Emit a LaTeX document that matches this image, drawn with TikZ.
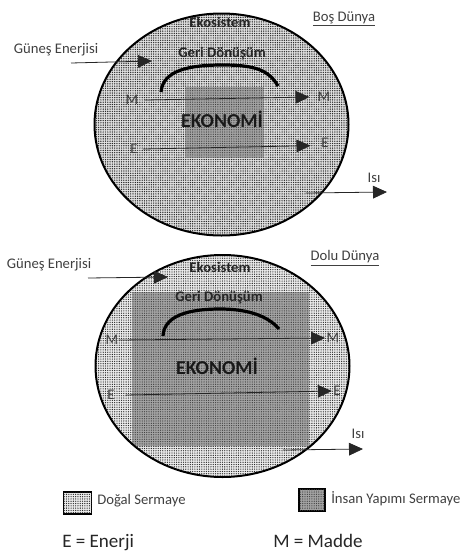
\documentclass[tikz,border=0pt]{standalone}
\usepackage{fontspec}
\setmainfont{Carlito}
\usetikzlibrary{arrows.meta,patterns.meta}
\tikzset{
  x=0.75pt,y=-0.75pt,
  natural/.style={fill=black!12,postaction={pattern={Dots[radius=0.54pt,distance=1.72pt,angle=0]},pattern color=black!85}},
  naturallight/.style={fill=black!8,postaction={pattern={Dots[radius=0.49pt,distance=1.72pt,angle=0]},pattern color=black!85}},
  built/.style={fill=black!36,postaction={pattern={Dots[radius=0.48pt,distance=1.72pt,angle=0]},pattern color=black!75}},
  flow/.style={draw=black!85,line width=0.6pt,-{Triangle[length=10.5pt,width=9.5pt]}},
  loopline/.style={draw=black,line width=2.4pt,line cap=butt},
  lbl/.style={inner sep=0pt,font=\fontsize{11pt}{13pt}\selectfont,text=black!75},
  lblsmall/.style={inner sep=0pt,font=\fontsize{11pt}{13pt}\selectfont,text=black!75},
  strong/.style={inner sep=0pt,font=\fontsize{11pt}{13pt}\selectfont\bfseries,text=black!85},
  eco/.style={inner sep=0pt,font=\fontsize{14.8pt}{17pt}\selectfont\bfseries,text=black!90},
  big/.style={inner sep=0pt,font=\fontsize{14.3pt}{16pt}\selectfont,text=black!85},
  keybox/.style={draw=black,line width=1.3pt},
}
\begin{document}
\begin{tikzpicture}
\useasboundingbox (0,0) rectangle (462,554);
% upper world
\path[natural] (221.5,124.5) ellipse [x radius=127,y radius=111];
\path[built] (185,87) rectangle (264,158);
\draw[line width=1.5pt] (221.5,124.5) ellipse [x radius=127,y radius=111];
\node[strong] (eco1) at (220,22) {Ekosistem};
\node[lbl] (bos) at (344,19) {\underline{Boş Dünya}};
\node[lbl] (sun1) at (56,50) {Güneş Enerjisi};
\node[strong] (geri1) at (222,54) {Geri Dönüşüm};
\node[lblsmall] (m1a) at (132,100) {M};
\node[lblsmall] (m1b) at (324,97) {M};
\node[eco] (eko1) at (222,119) {EKONOMİ};
\node[lblsmall] (e1a) at (134,149) {E};
\node[lblsmall] (e1b) at (325,143) {E};
\node[lblsmall] (isi1) at (374,178) {Isı};
\coordinate (s1a) at (71,63);
\coordinate (s1b) at (152,61);
\coordinate (h1a) at (306,193);
\coordinate (h1b) at (387,192);
\draw[flow] (s1a) -- (s1b);
\draw[flow] ([xshift=5pt]m1a.east) -- ([xshift=-6pt]m1b.west);
\draw[flow] ([xshift=4pt]e1a.east) -- ([xshift=-8pt,yshift=-2pt]e1b.west);
\draw[flow] (h1a) -- (h1b);
\coordinate (l1a) at (161,92);
\coordinate (l1b) at (278,86);
\draw[loopline] (l1a) .. controls (163,70) and (190,65) .. (222,65) .. controls (250,65) and (268,68) .. (l1b);
% lower world
\path[naturallight] (222.5,366) ellipse [x radius=127,y radius=111];
\begin{scope}
\clip (222.5,366) ellipse [x radius=127,y radius=111];
\path[built] (132,292) rectangle (309,446);
\end{scope}
\draw[line width=1.5pt] (222.5,366) ellipse [x radius=127,y radius=111];
\node[strong] (eco2) at (220,267) {Ekosistem};
\node[lbl] (dolu) at (345,258) {\underline{Dolu Dünya}};
\node[lbl] (sun2) at (49,265) {Güneş Enerjisi};
\node[strong] (geri2) at (219,298) {Geri Dönüşüm};
\node[lblsmall] (m2a) at (112,340) {M};
\node[lblsmall] (m2b) at (333,338) {M};
\node[eco] (eko2) at (217,366) {EKONOMİ};
\node[lblsmall] (e2a) at (111,395) {E};
\node[lblsmall] (e2b) at (337,391) {E};
\node[lblsmall] (isi2) at (358,434) {Isı};
\coordinate (s2a) at (88,278);
\coordinate (s2b) at (168,277);
\coordinate (h2a) at (283,450);
\coordinate (h2b) at (363,449);
\draw[flow] (s2a) -- (s2b);
\draw[flow] (m2a.east) -- ([xshift=-1pt]m2b.west);
\draw[flow] ([xshift=8pt]e2a.east) -- ([xshift=-1pt]e2b.west);
\draw[flow] (h2a) -- (h2b);
\coordinate (l2a) at (163,336);
\coordinate (l2b) at (279,329);
\draw[loopline] (l2a) .. controls (164,315) and (190,309) .. (220,309) .. controls (248,309) and (268,316) .. (l2b);
% legend
\node[keybox,naturallight,minimum width=21pt,minimum height=16pt,inner sep=0pt] (k1) at (77.5,503) {};
\node[lbl,anchor=west] (k1t) at (97,501) {Doğal Sermaye};
\node[keybox,built,minimum width=20pt,minimum height=16pt,inner sep=0pt] (k2) at (312,500) {};
\node[lbl,anchor=west] (k2t) at (331,499) {İnsan Yapımı Sermaye};
\node[big,anchor=base west] (ke) at (62,547) {E = Enerji};
\node[big,anchor=base west] (km) at (273,547) {M = Madde};
\end{tikzpicture}
\end{document}
